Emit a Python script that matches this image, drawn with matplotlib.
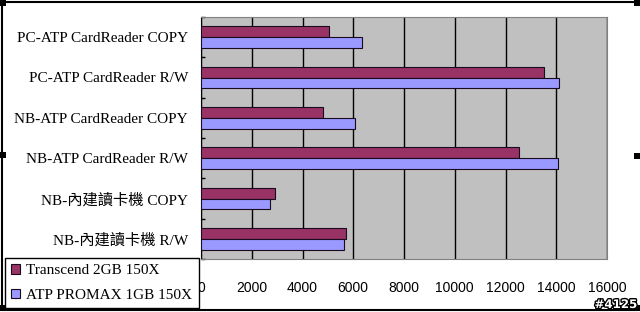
import numpy as np
import matplotlib
matplotlib.use("Agg")
import matplotlib.pyplot as plt
from matplotlib.patches import Patch, Rectangle
from matplotlib.lines import Line2D
import matplotlib.patheffects as pe

# data (top to bottom)
categories = ["PC-ATP CardReader COPY", "PC-ATP CardReader R/W",
              "NB-ATP CardReader COPY", "NB-ATP CardReader R/W",
              "NB-內建讀卡機 COPY", "NB-內建讀卡機 R/W"]
transcend = [5050, 13500, 4800, 12550, 2900, 5700]
atp = [6350, 14100, 6050, 14050, 2700, 5650]
series_names = ["Transcend 2GB 150X", "ATP PROMAX 1GB 150X"]
xticks = list(range(0, 16001, 2000))

serif = ["Liberation Serif", "Noto Sans CJK TC", "DejaVu Sans"]
W, H = 640, 312

fig = plt.figure(figsize=(W / 100, H / 100), dpi=100)
fig.patch.set_facecolor("white")
ax = fig.add_axes([201 / W, 1 - 259 / H, 406 / W, 242 / H])
ax.set_facecolor("#C0C0C0")

y = np.arange(len(categories))
h = 0.27
ax.barh(y - h / 2, transcend, height=h, color="#993366", edgecolor="#1a0a20",
        linewidth=0.8, label=series_names[0], zorder=3)
ax.barh(y + h / 2, atp, height=h, color="#9999FF", edgecolor="#1a0a20",
        linewidth=0.8, label=series_names[1], zorder=3)

ax.set_xlim(0, 16000)
ax.set_ylim(len(categories) - 0.5, -0.5)
ax.set_xticks(xticks)
ax.set_xticklabels([str(v) for v in xticks], fontfamily="Liberation Sans", fontsize=10)
ax.tick_params(axis="x", length=0, pad=15.5)
ax.set_yticks(y)
ax.set_yticklabels(categories, fontfamily=serif, fontsize=11)
ax.tick_params(axis="y", which="major", length=0, pad=9.4)
ax.set_yticks(np.arange(-0.5, len(categories)), minor=True)
ax.tick_params(axis="y", which="minor", direction="in", length=3, width=1, color="black")

ax.grid(axis="x", color="black", linewidth=1)
ax.set_axisbelow(True)
for s in ["top", "right", "bottom"]:
    ax.spines[s].set_color("#808080")
ax.spines["left"].set_color("black")

handles = [Patch(facecolor="#993366", edgecolor="#1a0a20", linewidth=0.8),
           Patch(facecolor="#9999FF", edgecolor="#1a0a20", linewidth=0.8)]
leg = ax.legend(handles, series_names, loc="lower left",
                bbox_to_anchor=(5 / W, 1 - 308 / H), bbox_transform=fig.transFigure,
                prop={"family": serif, "size": 11}, frameon=True, fancybox=False,
                edgecolor="black", framealpha=1, borderpad=0.4,
                handlelength=0.6, handleheight=0.6, handletextpad=0.4,
                labelspacing=0.75, borderaxespad=0)
leg.get_frame().set_linewidth(1)

# outer chart frame with selection handles
fig.add_artist(Line2D([2 / W, 2 / W], [1 - 309 / H, 1 - 1 / H], color="black", lw=1.5))
fig.add_artist(Line2D([2 / W, 634 / W], [1 - 1.5 / H, 1 - 1.5 / H], color="black", lw=1.5))
fig.add_artist(Line2D([2 / W, 636 / W], [1 - 309.5 / H, 1 - 309.5 / H], color="black", lw=1.5))
for hx, hy in [(0, 0), (0, 152), (0, 305), (634, 0), (634, 153), (634, 305)]:
    fig.add_artist(Rectangle((hx / W, 1 - (hy + 6) / H), 6 / W, 6 / H,
                             facecolor="black", edgecolor="none"))

fig.text(637 / W, 1 - 311 / H, "#4125", ha="right", va="bottom", fontsize=8.5,
         fontweight="bold", color="white", fontfamily="DejaVu Sans",
         path_effects=[pe.withStroke(linewidth=2, foreground="black")])

fig.savefig("out.png", dpi=100)
